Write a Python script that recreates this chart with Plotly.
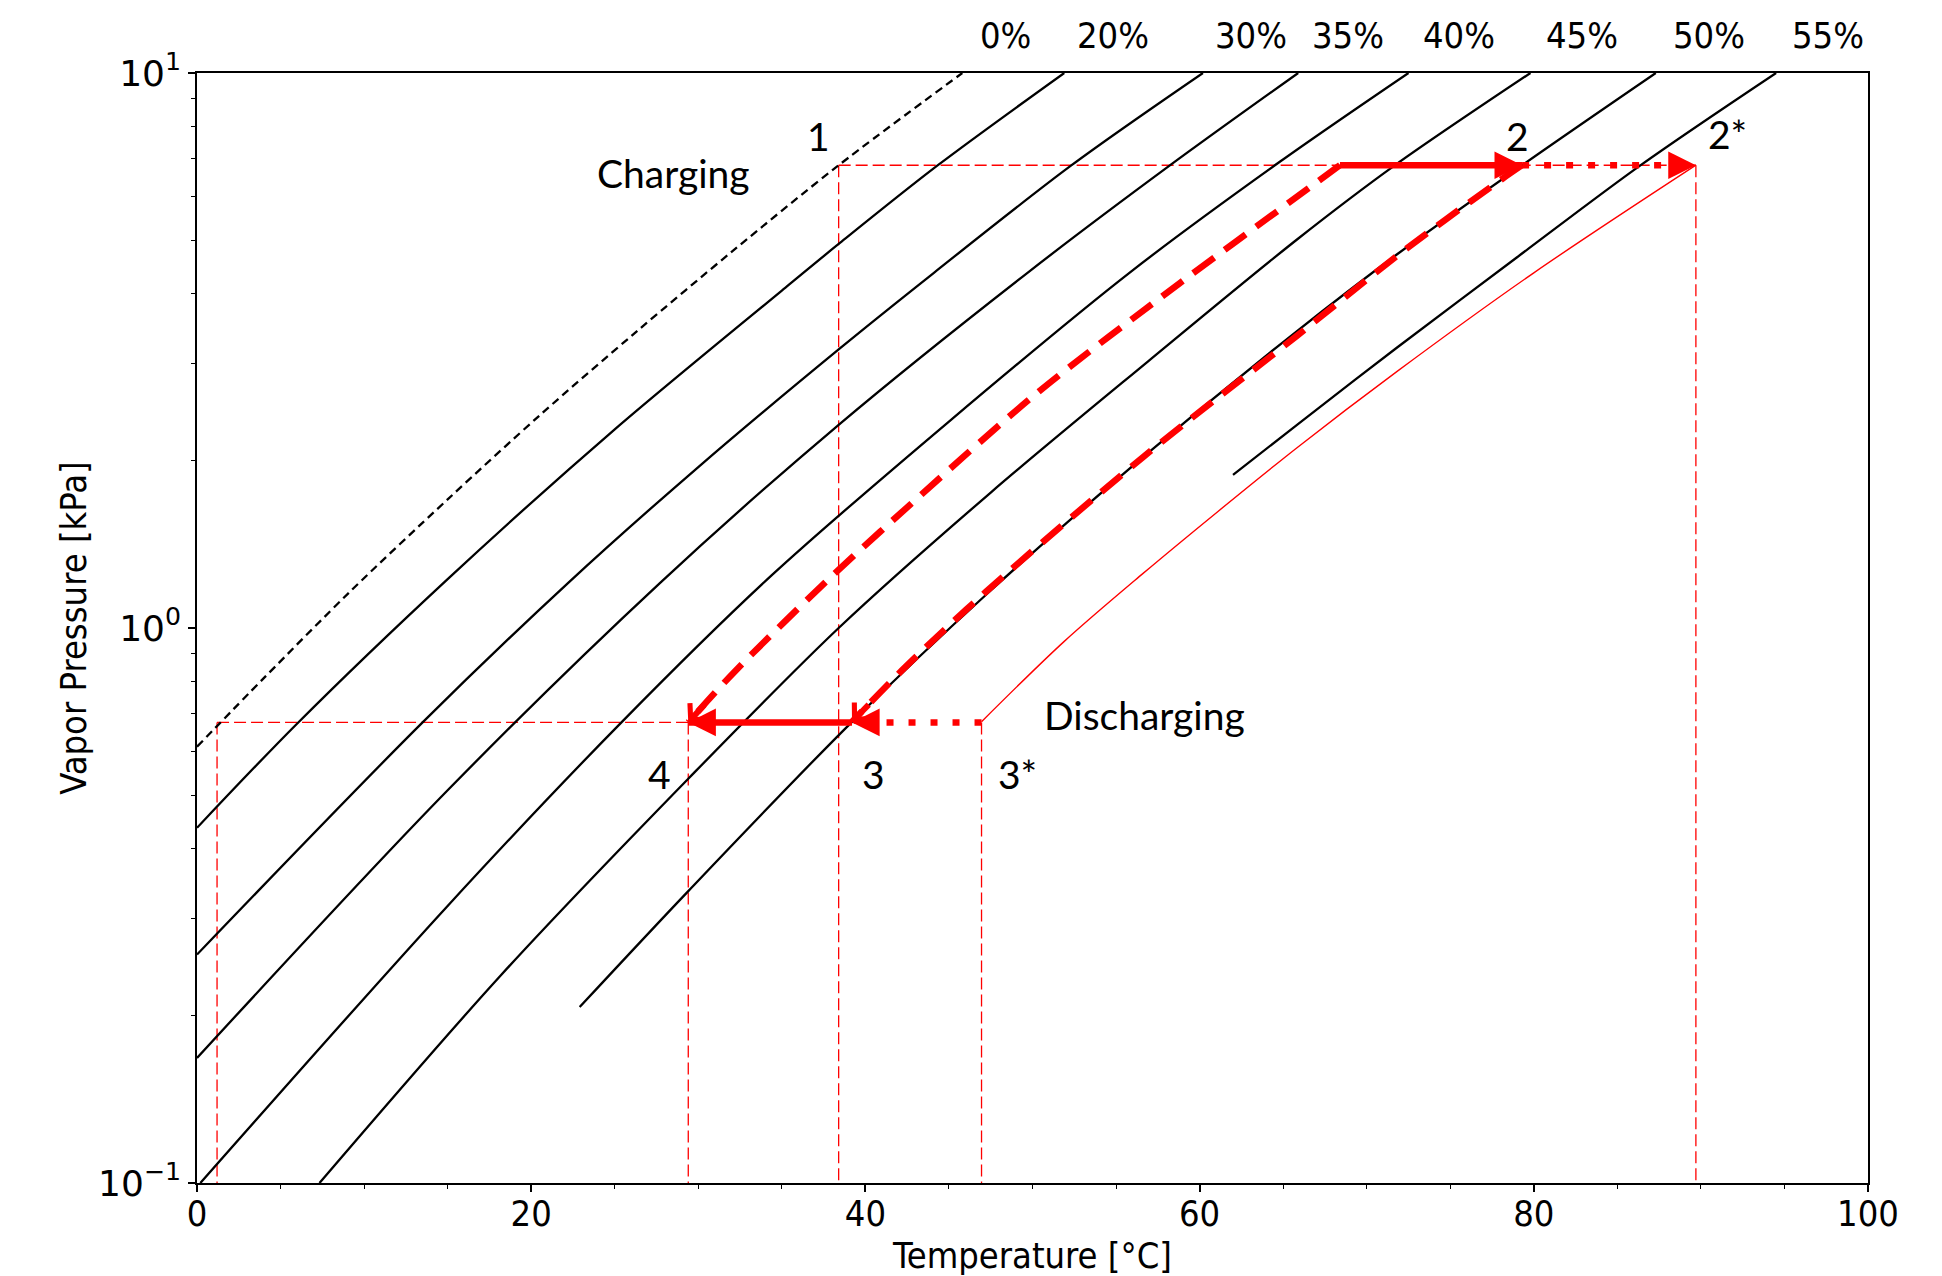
import math
import plotly.graph_objects as go

# ---------------- data ----------------
# isosteres: temperature [°C] and vapour pressure [kPa]
t_00 = [0, 4.1, 9.2, 15.0, 20.6, 26.3, 32.1, 38.4, 45.8]
p_00 = [0.611, 0.818, 1.166, 1.705, 2.43, 3.42, 4.79, 6.82, 10.0]

t_20 = [0, 6.0, 15.0, 25.0, 35.0, 38.4, 44.3, 51.9]
p_20 = [0.4365, 0.673, 1.225, 2.280, 4.055, 4.92, 6.808, 10.0]

t_30 = [0, 13.5, 22.2, 30.0, 38.4, 44.1, 52.3, 60.2]
p_30 = [0.258, 0.676, 1.205, 1.950, 3.177, 4.365, 6.808, 10.0]

t_35 = [0, 14.97, 27.7, 38.4, 49.7, 58.2, 65.9]
p_35 = [0.168, 0.509, 1.205, 2.323, 4.365, 6.808, 10.0]

t_40 = [0.2, 14.97, 25.4, 34.4, 45.0, 55.8, 64.8, 72.5]
p_40 = [0.100, 0.315, 0.676, 1.245, 2.355, 4.365, 6.918, 10.0]

t_45 = [7.33, 18.2, 29.4, 38.4, 47.5, 56.9, 65.83, 71.7, 79.8]
p_45 = [0.100, 0.237, 0.535, 1.00, 1.754, 3.020, 5.012, 6.823, 10.0]

t_50 = [22.9, 29.4, 39.2, 47.4, 56.9, 65.83, 71.8, 79.5, 87.3]
p_50 = [0.2075, 0.3357, 0.6776, 1.161, 2.065, 3.428, 4.710, 6.887, 10.0]

t_55 = [62.0, 65.83, 71.8, 79.0, 86.4, 94.5]
p_55 = [1.888, 2.323, 3.199, 4.656, 6.823, 10.0]

iso_labels = ["0%", "20%", "30%", "35%", "40%", "45%", "50%", "55%"]
iso_label_t = [48.4, 54.8, 63.1, 68.9, 75.5, 82.9, 90.5, 97.6]

# cycle state points
p_high = 6.82
p_low = 0.676
t_1 = 38.4
t_2 = 79.3
t_2s = 89.7
t_3 = 39.2
t_3s = 46.95
t_4 = 29.4
t_low_sat = 1.2
t_charge_start = 68.4

# thick dashed paths
dash_upper_t = [68.4, 67.1, 58.8, 50.3, 42.6, 37.7, 32.1, 29.4]
dash_upper_p = [6.823, 6.383, 4.178, 2.655, 1.660, 1.216, 0.830, 0.676]

dash_lower_t = [79.3, 78.1, 72.4, 65.8, 56.7, 47.2, 42.4, 39.2]
dash_lower_p = [6.823, 6.442, 4.831, 3.357, 2.042, 1.161, 0.851, 0.678]

# thin red solid curve 3* -> 2*
thin_t = [46.95, 51.9, 56.6, 61.1, 65.83, 71.8, 80.0, 89.7]
thin_p = [0.678, 0.946, 1.253, 1.622, 2.113, 2.897, 4.365, 6.823]

x_ticks = [0, 20, 40, 60, 80, 100]
y_ticks = [0.1, 1, 10]
y_ticktext = ["10<sup>\u22121</sup>", "10<sup>0</sup>", "10<sup>1</sup>"]
y_minor = [0.2, 0.3, 0.4, 0.5, 0.6, 0.7, 0.8, 0.9, 2, 3, 4, 5, 6, 7, 8, 9]

# ---------------- layout constants ----------------
# the page body adds an 8px margin, so the figure is made 8px smaller
OFF = 8
W, H = 1942 - OFF, 1276 - OFF
ML, MR, MT, MB = 197 - OFF, 74, 73 - OFF, 93
PW, PH = W - ML - MR, H - MT - MB
X_RANGE = [0, 100]
Y_RANGE = [-1, 1]
px_per_x = PW / (X_RANGE[1] - X_RANGE[0])
px_per_dec = PH / (Y_RANGE[1] - Y_RANGE[0])

RED = "#ff0000"
COND = "DejaVu Sans Condensed, Liberation Sans Narrow, DejaVu Sans, sans-serif"
LABF = "Lato, Open Sans, sans-serif"

fig = go.Figure()


def line(x, y, color, width, dash="solid", shape="linear"):
    fig.add_trace(go.Scatter(
        x=x, y=y, mode="lines", showlegend=False, hoverinfo="skip",
        line=dict(color=color, width=width, dash=dash, shape=shape,
                  smoothing=0.9 if shape == "spline" else None)))


# thin red dashed guide lines
guide = "12px,5px"
line([t_1, t_2s], [p_high, p_high], RED, 1.3, guide)
line([t_low_sat, t_3], [p_low, p_low], RED, 1.3, guide)
for tv, ptop in [(t_low_sat, p_low), (t_4, p_low), (t_1, p_high),
                 (t_3s, p_low), (t_2s, p_high)]:
    line([tv, tv], [ptop, y_ticks[0]], RED, 1.3, guide)

# isosteres
line(t_00, p_00, "black", 2.3, "8px,5px", "spline")
for tt, pp in [(t_20, p_20), (t_30, p_30), (t_35, p_35), (t_40, p_40),
               (t_45, p_45), (t_50, p_50), (t_55, p_55)]:
    line(tt, pp, "black", 2.3, "solid", "spline")

# thin red solid curve
line(thin_t, thin_p, RED, 1.4, "solid", "spline")

# thick red paths
line(dash_upper_t, dash_upper_p, RED, 6.5, "26px,13px", "spline")
line(dash_lower_t, dash_lower_p, RED, 6.5, "26px,13px", "spline")
line([t_charge_start, t_2], [p_high, p_high], RED, 6.5)
line([t_3, t_4], [p_low, p_low], RED, 6.5)
line([t_2, t_2s], [p_high, p_high], RED, 6.5, "7px,15px")
line([t_3s, t_3], [p_low, p_low], RED, 6.5, "7px,15px")

annotations = []


def head(xh, ph, ax, ay, style=2, size=0.85, width=6.5):
    annotations.append(dict(
        x=xh, y=math.log10(ph), xref="x", yref="y", text="",
        showarrow=True, arrowhead=style, arrowsize=size, arrowwidth=width,
        arrowcolor=RED, ax=ax, ay=ay, axref="pixel", ayref="pixel"))


def dir_head(tt, pp, length=26):
    dx = (tt[-1] - tt[-2]) * px_per_x
    dy = (math.log10(pp[-1]) - math.log10(pp[-2])) * px_per_dec
    n = math.hypot(dx, dy)
    head(tt[-1], pp[-1], -dx / n * length, dy / n * length, style=4, size=0.75, width=6)


head(t_2, p_high, -26, 0)
head(t_2s, p_high, -26, 0)
head(t_4, p_low, 26, 0)
head(t_3, p_low, 26, 0)
dir_head(dash_upper_t, dash_upper_p)
dir_head(dash_lower_t, dash_lower_p)

# concentration labels on top
for txt, tx in zip(iso_labels, iso_label_t):
    annotations.append(dict(x=tx, y=1, xref="x", yref="paper", text=txt,
                            showarrow=False, yanchor="middle", yshift=38,
                            font=dict(family=COND, size=36, color="black")))

# state / process labels
for txt, tx, py in [("1", 37.2, 7.69), ("2", 79.0, 7.69), ("2*", 91.6, 7.76),
                    ("4", 27.7, 0.546), ("3", 40.5, 0.546), ("3*", 49.1, 0.546),
                    ("Charging", 28.5, 6.6), ("Discharging", 56.7, 0.698)]:
    annotations.append(dict(x=tx, y=math.log10(py), xref="x", yref="y", text=txt,
                            showarrow=False, xanchor="center", yanchor="middle",
                            font=dict(family=LABF, size=39, color="black")))

fig.update_layout(
    width=W, height=H, autosize=False,
    margin=dict(l=ML, r=MR, t=MT, b=MB),
    paper_bgcolor="white", plot_bgcolor="white",
    annotations=annotations,
    xaxis=dict(
        range=X_RANGE, tickmode="array", tickvals=x_ticks, automargin=False,
        ticks="outside", ticklen=7, tickwidth=1.5, tickcolor="black",
        ticklabelstandoff=-9,
        showline=True, linecolor="black", linewidth=1.6, mirror=True,
        showgrid=False, zeroline=False,
        tickfont=dict(family=COND, size=36, color="black"),
        minor=dict(dtick=5, tick0=0, ticks="outside", ticklen=4,
                   tickwidth=1.2, tickcolor="black", showgrid=False),
        title=dict(text="Temperature [\u00b0C]", standoff=12,
                   font=dict(family=COND, size=36, color="black")),
    ),
    yaxis=dict(
        type="log", range=Y_RANGE, tickmode="array", tickvals=y_ticks,
        ticktext=y_ticktext, automargin=False,
        ticks="outside", ticklen=7, tickwidth=1.5, tickcolor="black",
        showline=True, linecolor="black", linewidth=1.6, mirror=True,
        showgrid=False, zeroline=False,
        tickfont=dict(family="DejaVu Sans, sans-serif", size=36, color="black"),
        minor=dict(tickmode="array", tickvals=y_minor, ticks="outside",
                   ticklen=4, tickwidth=1.2, tickcolor="black", showgrid=False),
        title=dict(text="Vapor Pressure [kPa]", standoff=0,
                   font=dict(family=COND, size=36, color="black")),
    ),
)

fig.write_html("out.html")
